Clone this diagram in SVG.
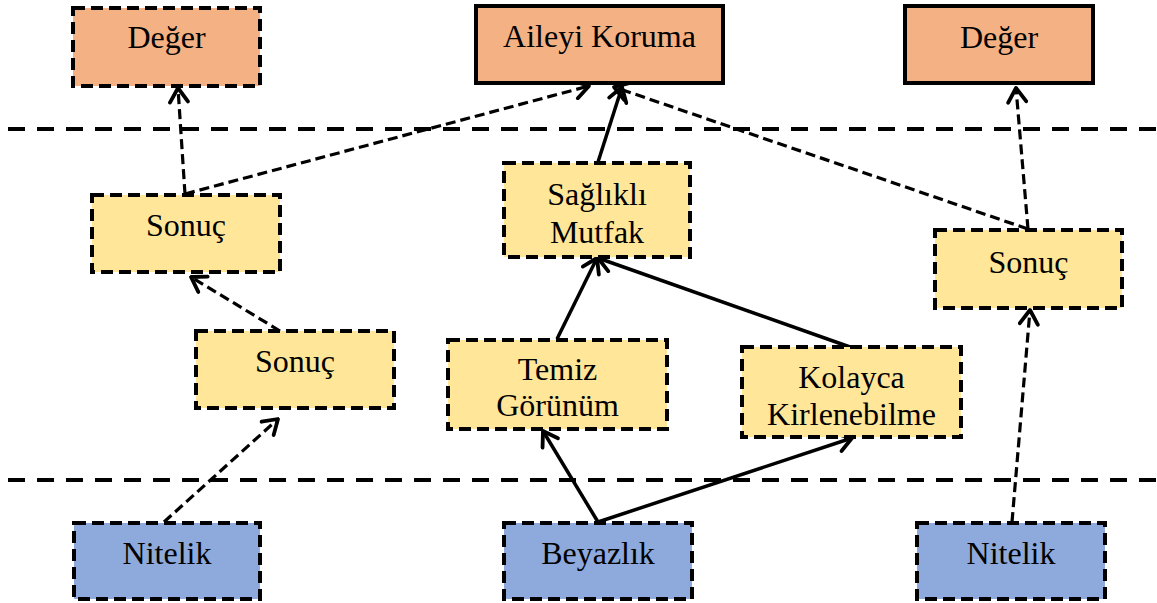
<svg xmlns="http://www.w3.org/2000/svg" width="1157" height="603" viewBox="0 0 1157 603">
  <style>
    .box { stroke: #000; stroke-width: 4; }
    .dash { stroke-dasharray: 12 6; }
    .deger { fill: #F4B183; }
    .sonuc { fill: #FFE699; }
    .nitelik { fill: #8EA9DB; }
    text { font-family: "Liberation Serif", "Times New Roman", serif; font-size: 32px; fill: #000; text-anchor: middle; }
    .link { fill: none; stroke: #000; stroke-width: 3.5; marker-end: url(#head); }
    .link.d { stroke-dasharray: 10 5; stroke-width: 3.2; }
    .band { stroke: #000; stroke-width: 4; stroke-dasharray: 17 12; }
  </style>
  <defs>
    <marker id="head" viewBox="-18 -11 20 22" refX="0" refY="0" markerWidth="20" markerHeight="22" markerUnits="userSpaceOnUse" orient="auto">
      <path d="M -14 -9 L 0 0 L -14 9" fill="none" stroke="#000" stroke-width="3.8" stroke-linecap="round" stroke-linejoin="round"/>
    </marker>
  </defs>
  <rect width="1157" height="603" fill="#fff"/>

  <!-- level separators -->
  <g id="separators">
    <line class="band" x1="8" y1="129" x2="1157" y2="129"/>
    <line class="band" x1="8" y1="480" x2="1157" y2="480"/>
  </g>

  <!-- connectors -->
  <g id="connectors">
    <line class="link d" x1="185" y1="194" x2="178" y2="88"/>
    <line class="link d" x1="185" y1="194" x2="589" y2="86"/>
    <line class="link" x1="598" y1="162" x2="622" y2="87"/>
    <line class="link d" x1="1028" y1="229" x2="614" y2="87"/>
    <line class="link d" x1="1028" y1="229" x2="1016" y2="88"/>
    <line class="link d" x1="280" y1="331" x2="191" y2="277"/>
    <line class="link d" x1="164" y1="522" x2="278" y2="419"/>
    <line class="link" x1="557" y1="339" x2="597" y2="258"/>
    <line class="link" x1="850" y1="347" x2="598" y2="258"/>
    <line class="link" x1="598" y1="522" x2="543" y2="431"/>
    <line class="link" x1="598" y1="522" x2="852" y2="438"/>
    <line class="link d" x1="1012" y1="522" x2="1030" y2="310"/>
  </g>

  <!-- top row: values -->
  <g id="deger-left">
    <rect class="box dash deger" x="73" y="8" width="187" height="78"/>
    <text x="166.5" y="48">Değer</text>
  </g>
  <g id="aileyi-koruma">
    <rect class="box deger" x="476" y="6" width="247" height="77"/>
    <text x="599.5" y="47">Aileyi Koruma</text>
  </g>
  <g id="deger-right">
    <rect class="box deger" x="905" y="6" width="188" height="77"/>
    <text x="999" y="48">Değer</text>
  </g>

  <!-- middle row: consequences -->
  <g id="sonuc-left">
    <rect class="box dash sonuc" x="92" y="195" width="188" height="77"/>
    <text x="186" y="236">Sonuç</text>
  </g>
  <g id="saglikli-mutfak">
    <rect class="box dash sonuc" x="504" y="163" width="186" height="94"/>
    <text x="597" y="205">Sağlıklı</text>
    <text x="597" y="243">Mutfak</text>
  </g>
  <g id="sonuc-right">
    <rect class="box dash sonuc" x="935" y="230" width="187" height="78"/>
    <text x="1028.5" y="273">Sonuç</text>
  </g>
  <g id="sonuc-middle">
    <rect class="box dash sonuc" x="196" y="331" width="198" height="77"/>
    <text x="295" y="372">Sonuç</text>
  </g>
  <g id="temiz-gorunum">
    <rect class="box dash sonuc" x="448" y="340" width="219" height="89"/>
    <text x="557.5" y="380">Temiz</text>
    <text x="557.5" y="416">Görünüm</text>
  </g>
  <g id="kolayca-kirlenebilme">
    <rect class="box dash sonuc" x="742" y="347" width="219" height="90"/>
    <text x="851.5" y="388">Kolayca</text>
    <text x="851.5" y="425">Kirlenebilme</text>
  </g>

  <!-- bottom row: attributes -->
  <g id="nitelik-left">
    <rect class="box dash nitelik" x="74" y="523" width="186" height="76"/>
    <text x="167" y="564">Nitelik</text>
  </g>
  <g id="beyazlik">
    <rect class="box dash nitelik" x="504" y="523" width="188" height="76"/>
    <text x="598" y="564">Beyazlık</text>
  </g>
  <g id="nitelik-right">
    <rect class="box dash nitelik" x="917" y="523" width="188" height="76"/>
    <text x="1011" y="564">Nitelik</text>
  </g>
</svg>
